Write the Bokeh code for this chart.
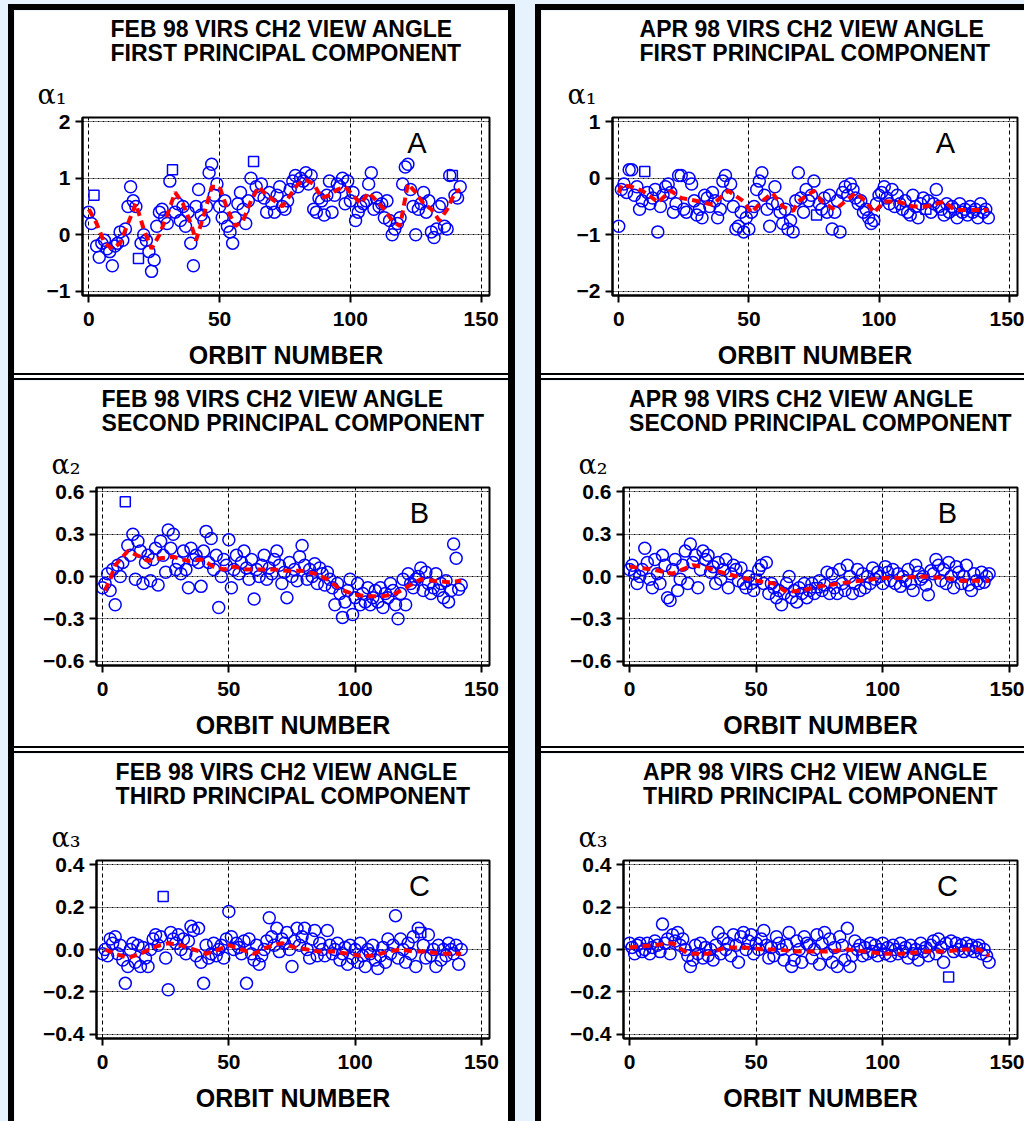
from bokeh.plotting import figure
from bokeh.models import Title, Label, FixedTicker, Spacer, Range1d
from bokeh.layouts import row, column
from bokeh.embed import file_html
from bokeh.resources import INLINE

# ---------------- data ----------------
ORBITS = list(range(143))
XTICKS = [0, 50, 100, 150]

Y1_FEB_TICKS = [2, 1, 0, -1]
Y1_FEB_LABELS = ["2", "1", "0", "\u22121"]
Y1_APR_TICKS = [1, 0, -1, -2]
Y1_APR_LABELS = ["1", "0", "\u22121", "\u22122"]
Y2_TICKS = [0.6, 0.3, 0, -0.3, -0.6]
Y2_LABELS = ["0.6", "0.3", "0.0", "\u22120.3", "\u22120.6"]
Y3_TICKS = [0.4, 0.2, 0, -0.2, -0.4]
Y3_LABELS = ["0.4", "0.2", "0.0", "\u22120.2", "\u22120.4"]

FEB_A = [
    0.40, 0.20, 0.70, -0.20, -0.40, -0.15, -0.10, -0.25, -0.30, -0.55,
    -0.20, -0.15, 0.05, -0.10, 0.10, 0.50, 0.85, 0.60, 0.50, -0.42,
    -0.15, 0.00, -0.10, -0.30, -0.65, -0.45, 0.15, 0.40, 0.45, 0.30,
    0.20, 0.95, 1.15, 0.40, 0.55, 0.25, 0.50, 0.15, 0.40, -0.15,
    -0.55, 0.50, 0.80, 0.35, 0.25, 0.50, 1.10, 1.25, 0.70, 0.90,
    0.50, 0.30, 0.60, 0.15, 0.05, -0.15, 0.30, 0.55, 0.75, 0.45,
    0.20, 0.60, 1.00, 1.30, 0.85, 0.70, 0.90, 0.65, 0.40, 0.75,
    0.55, 0.40, 0.70, 0.85, 0.50, 0.45, 0.60, 0.80, 0.95, 1.05,
    0.85, 1.00, 0.95, 1.10, 0.90, 1.05, 0.45, 0.40, 0.65, 0.60,
    0.35, 0.70, 0.95, 0.40, 0.70, 0.90, 0.85, 1.00, 0.55, 0.95,
    0.60, 0.75, 0.25, 0.40, 0.50, 0.55, 0.60, 0.90, 1.10, 0.45,
    0.65, 0.50, 0.55, 0.30, 0.60, 0.25, 0.00, 0.10, 0.20, 0.30,
    0.90, 1.20, 1.25, 0.80, 0.50, 0.00, 0.45, 0.55, 0.75, 0.40,
    0.60, 0.05, -0.05, 0.10, 0.50, 0.55, 0.15, 0.10, 1.05, 1.05,
    0.70, 0.65, 0.85]
FEB_A_SQUARES = [2, 19, 32, 63, 139]
FEB_A_RED_X = [0, 3, 6, 9, 12, 15, 18, 21, 24, 27, 30, 33, 36, 39, 41, 44, 47, 50,
               53, 56, 59, 62, 65, 68, 71, 74, 77, 80, 83, 86, 89, 92, 95, 98, 101,
               104, 107, 110, 113, 116, 119, 122, 125, 128, 131, 134, 137, 140, 142]
FEB_A_RED_Y = [0.45, 0.20, -0.15, -0.25, -0.15, 0.20, 0.55, 0.10, -0.25, 0.00, 0.35,
               0.75, 0.55, 0.20, -0.10, 0.35, 0.85, 0.85, 0.45, 0.15, 0.25, 0.60,
               0.85, 0.70, 0.60, 0.50, 0.70, 0.90, 0.97, 0.90, 0.65, 0.70, 0.80,
               0.85, 0.70, 0.55, 0.75, 0.60, 0.45, 0.25, 0.15, 0.90, 0.75, 0.55,
               0.45, 0.25, 0.45, 0.75, 0.80]

APR_A = [
    -0.85, -0.20, -0.10, -0.25, 0.15, 0.15, -0.30, -0.15, -0.55, -0.40,
    0.12, -0.25, -0.45, -0.35, -0.20, -0.95, -0.50, -0.30, -0.15, -0.10,
    -0.25, -0.60, -0.45, 0.05, 0.05, -0.55, -0.60, 0.00, -0.10, -0.40,
    -0.65, -0.55, -0.70, -0.30, -0.35, -0.50, -0.25, -0.40, -0.70, -0.55,
    -0.05, 0.05, -0.30, -0.10, -0.50, -0.90, -0.85, -0.60, -0.95, -0.70,
    -0.90, -0.60, -0.50, -0.20, -0.05, 0.10, -0.30, -0.55, -0.85, -0.45,
    -0.15, -0.45, -0.60, -0.80, -0.55, -0.90, -0.75, -0.95, -0.40, 0.10,
    -0.35, -0.60, -0.20, -0.40, -0.30, -0.05, -0.65, -0.45, -0.55, -0.35,
    -0.60, -0.30, -0.90, -0.60, -0.40, -0.95, -0.25, -0.15, -0.30, -0.10,
    -0.20, -0.35, -0.45, -0.40, -0.60, -0.55, -0.70, -0.80, -0.75, -0.45,
    -0.30, -0.25, -0.15, -0.35, -0.45, -0.20, -0.50, -0.30, -0.45, -0.55,
    -0.40, -0.60, -0.65, -0.30, -0.50, -0.70, -0.45, -0.35, -0.55, -0.40,
    -0.60, -0.45, -0.20, -0.50, -0.55, -0.65, -0.45, -0.60, -0.50, -0.55,
    -0.70, -0.45, -0.60, -0.55, -0.65, -0.50, -0.60, -0.55, -0.70, -0.45,
    -0.60, -0.55, -0.70]
APR_A_SQUARES = [10, 76, 118]
APR_A_RED_X = [0, 1, 5, 9, 13, 15, 20, 24, 31, 36, 42, 48, 51, 55, 59, 63, 67, 69,
               75, 78, 83, 87, 91, 95, 98, 102, 107, 113, 118, 125, 129, 134, 142]
APR_A_RED_Y = [-0.26, -0.12, -0.15, -0.22, -0.35, -0.43, -0.22, -0.35, -0.41, -0.47,
               -0.22, -0.41, -0.61, -0.41, -0.26, -0.50, -0.58, -0.41, -0.22, -0.41,
               -0.56, -0.41, -0.26, -0.41, -0.61, -0.41, -0.41, -0.50, -0.50, -0.41,
               -0.56, -0.56, -0.56]

FEB_B = [
    -0.08, -0.05, 0.02, -0.10, 0.05, -0.20, 0.08, 0.00, 0.10, 0.53,
    0.22, 0.15, 0.30, -0.02, 0.25, 0.18, -0.05, 0.10, 0.15, -0.03,
    0.12, 0.20, -0.06, 0.25, 0.15, 0.03, 0.33, 0.20, 0.30, 0.05,
    0.10, 0.02, 0.18, 0.05, -0.08, 0.20, 0.12, 0.15, 0.10, -0.07,
    0.18, 0.32, 0.10, 0.27, 0.05, 0.15, -0.22, 0.00, 0.12, 0.08,
    0.26, -0.08, 0.05, 0.15, 0.02, 0.10, 0.18, 0.06, -0.02, 0.12,
    -0.16, 0.05, 0.00, 0.08, 0.15, -0.02, 0.06, 0.02, 0.12, 0.18,
    0.08, -0.05, 0.03, -0.15, 0.10, 0.00, 0.05, -0.03, 0.14, 0.22,
    0.08, -0.02, 0.05, 0.00, 0.09, -0.05, 0.06, 0.02, -0.06, 0.03,
    -0.02, -0.08, -0.20, -0.05, -0.12, -0.29, -0.18, -0.10, -0.02, -0.27,
    -0.15, -0.05, -0.20, -0.12, -0.18, -0.08, -0.20, -0.15, -0.10, -0.18,
    -0.08, -0.22, -0.12, -0.15, -0.05, -0.10, -0.20, -0.30, -0.12, -0.02,
    -0.20, 0.02, -0.05, -0.08, -0.02, 0.00, 0.06, -0.10, 0.03, -0.05,
    -0.12, -0.08, 0.02, -0.10, -0.05, -0.15, -0.03, -0.18, -0.10, 0.23,
    0.13, -0.09, -0.06]
FEB_B_SQUARES = [9]
FEB_B_RED_X = [1, 3, 5, 10, 15, 18, 23, 28, 34, 39, 44, 48, 52, 57, 63, 68, 73, 79,
               84, 89, 94, 100, 105, 110, 115, 121, 126, 131, 137, 142]
FEB_B_RED_Y = [-0.10, -0.02, 0.08, 0.18, 0.14, 0.11, 0.13, 0.14, 0.11, 0.12, 0.07,
               0.05, 0.07, 0.05, 0.05, 0.05, 0.04, 0.04, 0.02, -0.02, -0.09, -0.13,
               -0.14, -0.14, -0.13, -0.07, -0.02, -0.03, -0.04, -0.03]

APR_B = [
    0.05, 0.08, 0.02, -0.05, 0.00, 0.05, 0.20, 0.10, -0.02, -0.08,
    0.12, 0.02, -0.05, 0.15, 0.08, -0.15, -0.17, 0.05, 0.12, -0.10,
    -0.02, 0.08, 0.18, -0.05, 0.23, 0.10, 0.15, -0.08, 0.05, 0.18,
    0.12, 0.15, 0.03, 0.07, -0.05, 0.10, -0.02, 0.05, 0.12, -0.08,
    0.02, 0.08, 0.05, -0.03, 0.06, -0.05, -0.08, 0.00, -0.05, -0.10,
    -0.02, 0.05, 0.08, -0.05, 0.10, -0.12, -0.05, -0.08, -0.15, -0.10,
    -0.20, -0.12, -0.05, 0.00, -0.15, -0.10, -0.18, -0.08, -0.12, -0.05,
    -0.15, -0.10, -0.05, -0.12, -0.08, -0.03, -0.10, -0.06, 0.03, -0.12,
    0.02, -0.08, -0.12, 0.05, -0.05, -0.10, 0.08, 0.00, -0.12, -0.05,
    0.05, -0.10, 0.02, -0.08, 0.00, -0.05, 0.06, -0.02, 0.03, 0.00,
    -0.05, 0.07, 0.03, -0.03, 0.05, -0.05, 0.02, -0.07, 0.00, -0.03,
    0.05, -0.05, -0.10, 0.08, 0.03, -0.02, 0.00, -0.06, -0.13, 0.04,
    0.02, 0.12, 0.08, -0.03, 0.05, -0.05, 0.10, 0.00, -0.08, 0.07,
    0.03, -0.05, 0.00, 0.08, -0.06, -0.10, 0.02, -0.03, -0.05, 0.03,
    -0.04, 0.00, 0.02]
APR_B_SQUARES = [50, 74]
APR_B_RED_X = [0, 9, 17, 25, 31, 38, 45, 50, 57, 62, 68, 75, 83, 91, 100, 108, 116,
               124, 131, 142]
APR_B_RED_Y = [0.07, 0.05, 0.02, 0.08, 0.06, 0.02, -0.01, -0.03, -0.05, -0.11,
               -0.10, -0.07, -0.05, -0.03, -0.01, -0.01, 0.00, -0.01, -0.03, -0.03]

FEB_C = [
    -0.02, 0.00, -0.03, 0.05, 0.03, 0.06, -0.02, 0.02, -0.05, -0.16,
    -0.08, 0.00, 0.03, -0.06, 0.02, -0.08, 0.01, -0.04, -0.08, 0.00,
    0.05, 0.07, 0.02, 0.06, 0.25, -0.04, -0.19, 0.08, 0.05, 0.03,
    0.07, 0.00, 0.05, -0.02, 0.04, 0.11, 0.09, -0.03, 0.10, -0.06,
    -0.16, 0.02, -0.04, -0.02, 0.03, -0.03, 0.00, 0.02, -0.04, 0.05,
    0.18, 0.06, 0.00, 0.03, 0.01, -0.02, 0.04, -0.16, 0.05, -0.02,
    -0.05, 0.02, -0.07, -0.03, 0.00, 0.04, 0.15, 0.06, 0.02, 0.10,
    -0.01, 0.05, 0.03, 0.08, 0.00, -0.08, 0.04, 0.10, 0.02, 0.06,
    0.10, 0.00, -0.04, 0.05, 0.09, -0.03, 0.03, 0.00, -0.03, 0.09,
    0.02, -0.02, 0.00, 0.03, -0.05, -0.02, 0.01, -0.07, 0.02, -0.04,
    0.00, -0.06, 0.03, -0.03, -0.08, 0.00, -0.02, 0.02, -0.05, -0.09,
    -0.03, 0.01, -0.06, 0.05, -0.02, 0.02, 0.16, -0.04, 0.05, 0.00,
    -0.06, 0.03, -0.02, 0.06, -0.08, 0.10, 0.08, 0.02, -0.04, 0.07,
    -0.03, 0.00, -0.08, 0.02, -0.05, 0.00, -0.03, 0.03, 0.00, -0.02,
    0.02, -0.07, 0.00]
FEB_C_SQUARES = [24, 126]
FEB_C_RED_X = [1, 5, 10, 15, 20, 26, 31, 36, 41, 46, 50, 55, 60, 65, 71, 76, 81, 86,
               92, 97, 102, 107, 113, 118, 123, 128, 134, 142]
FEB_C_RED_Y = [0.00, -0.02, -0.04, -0.02, 0.01, 0.03, 0.02, 0.00, -0.02, 0.00, 0.02,
               0.00, -0.02, 0.01, 0.03, 0.01, 0.00, -0.01, -0.01, -0.02, -0.03,
               -0.03, -0.01, 0.00, -0.01, -0.01, -0.02, -0.02]

APR_C = [
    0.03, 0.01, -0.02, 0.02, 0.03, -0.01, 0.00, 0.03, -0.02, 0.01,
    0.04, 0.02, -0.01, 0.12, 0.03, 0.05, -0.02, 0.07, 0.04, 0.08,
    0.02, 0.05, 0.00, -0.03, -0.08, -0.05, 0.02, -0.02, 0.03, -0.04,
    0.01, -0.03, 0.00, -0.05, 0.02, 0.08, -0.02, 0.05, 0.00, 0.03,
    -0.03, 0.07, 0.02, -0.06, 0.06, 0.08, 0.00, 0.04, 0.07, -0.02,
    0.03, 0.00, 0.05, 0.09, 0.02, -0.04, 0.01, -0.03, 0.06, 0.03,
    0.00, -0.05, 0.02, 0.08, -0.08, -0.05, 0.04, 0.00, -0.06, 0.06,
    0.03, 0.02, -0.04, 0.00, 0.07, -0.07, 0.03, 0.08, -0.02, 0.05,
    -0.06, 0.01, -0.08, 0.06, 0.02, -0.05, 0.10, -0.08, -0.03, 0.04,
    0.00, 0.02, -0.03, 0.01, -0.02, 0.03, -0.01, 0.02, -0.03, 0.00,
    0.03, -0.02, 0.01, -0.03, 0.02, 0.00, -0.02, 0.03, -0.01, 0.01,
    -0.04, 0.02, -0.02, 0.00, -0.05, 0.03, -0.01, 0.01, -0.03, 0.02,
    0.04, -0.02, 0.05, 0.01, -0.06, 0.03, -0.13, 0.04, -0.01, 0.03,
    0.00, 0.02, -0.01, 0.03, 0.00, 0.02, -0.01, 0.01, 0.02, -0.02,
    0.00, -0.03, -0.06]
APR_C_SQUARES = [126]
APR_C_RED_X = [0, 9, 17, 23, 31, 38, 45, 53, 59, 65, 72, 78, 86, 93, 100, 108, 116,
               124, 132, 138, 142]
APR_C_RED_Y = [0.01, 0.02, 0.03, -0.02, -0.02, 0.01, 0.01, 0.00, 0.00, -0.01, -0.01,
               -0.01, 0.00, -0.01, -0.02, -0.02, -0.01, -0.01, 0.00, 0.00, -0.03]

# ---------------- styling ----------------
BLUE = "#0000ff"
RED = "#ff0000"
PAGE_BG = "#e6f2fe"
SANS = "Liberation Sans"


def panel(month, comp, alpha, letter, yvals, squares, red_x, red_y, yticks, ylabels,
          width, height, mb_left, mb_right, mb_top, mb_bottom):
    lo, hi = min(yticks), max(yticks)
    pad = 0.026 * (hi - lo)
    p = figure(width=width, height=height,
               x_range=Range1d(-2.4, 153.2), y_range=Range1d(lo - pad, hi + pad),
               output_backend="svg", toolbar_location=None,
               min_border_left=mb_left, min_border_right=mb_right,
               min_border_top=mb_top, min_border_bottom=mb_bottom,
               background_fill_color="white", border_fill_color="white")
    try:
        p.frame_align = False
    except Exception:
        pass
    p.outline_line_color = "black"
    p.outline_line_width = 2

    p.xaxis.ticker = FixedTicker(ticks=XTICKS)
    p.yaxis.ticker = FixedTicker(ticks=yticks)
    p.yaxis.major_label_overrides = dict(zip(yticks, ylabels))
    p.xaxis.axis_label = "ORBIT NUMBER"
    p.xaxis.axis_label_text_font = SANS
    p.xaxis.axis_label_text_font_style = "bold"
    p.xaxis.axis_label_text_font_size = "25px"
    p.xaxis.axis_label_text_color = "black"
    p.xaxis.axis_label_text_line_height = 0.8
    p.xaxis.axis_label_standoff = 12
    p.axis.major_label_text_font = SANS
    p.axis.major_label_text_font_style = "bold"
    p.axis.major_label_text_font_size = "21px"
    p.axis.major_label_text_color = "black"
    p.xaxis.major_label_standoff = 9
    p.yaxis.major_label_standoff = 5
    p.axis.axis_line_color = "black"
    p.axis.axis_line_width = 2
    p.axis.major_tick_line_color = "black"
    p.axis.major_tick_line_width = 2
    p.axis.major_tick_out = 7
    p.axis.major_tick_in = 0
    p.axis.minor_tick_line_color = None

    p.xgrid.grid_line_color = "black"
    p.xgrid.grid_line_dash = "4 3"
    p.xgrid.grid_line_width = 1
    p.ygrid.grid_line_color = "black"
    p.ygrid.grid_line_dash = "2 1 1 1"
    p.ygrid.grid_line_width = 1

    circ = [i for i in ORBITS if i not in squares]
    p.scatter([ORBITS[i] for i in circ], [yvals[i] for i in circ], marker="circle",
              size=12, fill_color=None, line_color=BLUE, line_width=1.5)
    p.scatter([ORBITS[i] for i in squares], [yvals[i] for i in squares], marker="square",
              size=10, fill_color=None, line_color=BLUE, line_width=1.5)
    p.line(red_x, red_y, line_color=RED, line_width=4, line_dash="8 5")

    p.add_layout(Label(x=125.5, y=lo + 0.875 * (hi - lo), text=letter,
                       text_align="center", text_baseline="middle",
                       text_font=SANS, text_font_size="29px", text_color="black"))

    p.add_layout(Title(text=alpha, align="left", offset=-45, text_font="DejaVu Serif",
                       text_font_size="27px", text_font_style="normal",
                       text_color="black", standoff=15), "above")
    p.add_layout(Title(text=f"{month} 98 VIRS CH2 VIEW ANGLE\n{comp} PRINCIPAL COMPONENT",
                       align="center", text_font=SANS, text_font_size="23px",
                       text_font_style="bold", text_color="black",
                       text_line_height=0.93, standoff=6), "above")
    return p


def bar(w, h, color):
    return Spacer(width=w, height=h, styles={"background-color": color})


def sep(w):
    return column(bar(w, 2, "black"), bar(w, 3, "white"), bar(w, 2, "black"))


H_INNER = 1117
LW, RW = 494, 483
HA, HB, HC = 363, 366, 368

fa = panel("FEB", "FIRST", "\u03b1\u2081", "A", FEB_A, FEB_A_SQUARES, FEB_A_RED_X, FEB_A_RED_Y,
           Y1_FEB_TICKS, Y1_FEB_LABELS, LW, HA, 68, 19, 107, 78)
fb = panel("FEB", "SECOND", "\u03b1\u2082", "B", FEB_B, FEB_B_SQUARES, FEB_B_RED_X, FEB_B_RED_Y,
           Y2_TICKS, Y2_LABELS, LW, HB, 82, 19, 107, 81)
fc = panel("FEB", "THIRD", "\u03b1\u2083", "C", FEB_C, FEB_C_SQUARES, FEB_C_RED_X, FEB_C_RED_Y,
           Y3_TICKS, Y3_LABELS, LW, HC, 82, 19, 107, 83)
ra = panel("APR", "FIRST", "\u03b1\u2081", "A", APR_A, APR_A_SQUARES, APR_A_RED_X, APR_A_RED_Y,
           Y1_APR_TICKS, Y1_APR_LABELS, RW, HA, 71, 7, 107, 78)
rb = panel("APR", "SECOND", "\u03b1\u2082", "B", APR_B, APR_B_SQUARES, APR_B_RED_X, APR_B_RED_Y,
           Y2_TICKS, Y2_LABELS, RW, HB, 82, 7, 107, 81)
rc = panel("APR", "THIRD", "\u03b1\u2083", "C", APR_C, APR_C_SQUARES, APR_C_RED_X, APR_C_RED_Y,
           Y3_TICKS, Y3_LABELS, RW, HC, 82, 7, 107, 83)

left = column(bar(LW, 6, "black"), fa, sep(LW), fb, sep(LW), fc)
right = column(bar(RW, 6, "black"), ra, sep(RW), rb, sep(RW), rc)
left_block = column(Spacer(width=507, height=4),
                    row(bar(6, H_INNER, "black"), left, bar(7, H_INNER, "black")))
right_block = column(Spacer(width=489, height=4),
                     row(bar(6, H_INNER, "black"), right))
page = row(Spacer(width=8, height=1121), left_block, Spacer(width=20, height=1121),
           right_block, styles={"background-color": PAGE_BG})

open("out.html", "w").write(file_html(page, INLINE))
